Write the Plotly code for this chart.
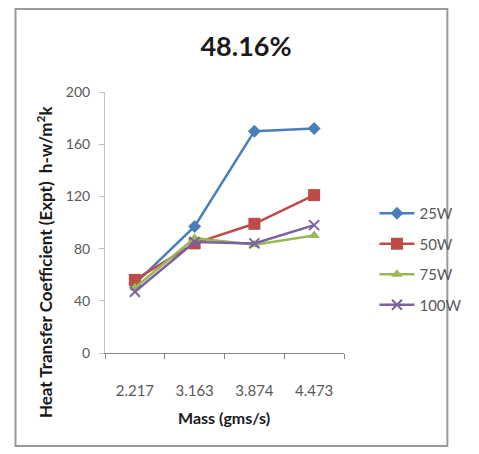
import plotly.graph_objects as go

categories = ["2.217", "3.163", "3.874", "4.473"]
series_names = ["25W", "50W", "75W", "100W"]
w25 = [53, 97, 170, 172]
w50 = [56, 84, 99, 121]
w75 = [50, 88, 83, 90]
w100 = [47, 85, 84, 98]
y_ticks = [0, 40, 80, 120, 160, 200]

colors = ["#4A7EBB", "#BE4B48", "#98B954", "#7D60A0"]
symbols = ["diamond", "square", "triangle-up", "x-thin-open"]
sizes = [10, 12, 10, 10]
values = [w25, w50, w75, w100]

FONT = "Lato"
fig = go.Figure()
for i, (name, vals) in enumerate(zip(series_names, values)):
    fig.add_trace(go.Scatter(
        x=categories, y=vals, name=name, mode="lines+markers",
        legendgroup=name,
        line=dict(color=colors[i], width=2.5),
        marker=dict(symbol=symbols[i], size=sizes[i], color=colors[i],
                    line=dict(color=colors[i], width=2 if i == 3 else 0)),
    ))

L, R, T, B = 105, 115, 92, 101
W, H = 479, 454
pw, ph = W - L - R, H - T - B

def px_x(p):
    return (p - L) / pw

def px_y(p):
    return (H - B - p) / ph

fig.update_layout(
    width=W, height=H,
    margin=dict(l=L, r=R, t=T, b=B),
    paper_bgcolor="white", plot_bgcolor="white",
    font=dict(family=FONT, color="#595959", size=14),
    title=dict(text="<b>48.16%</b>", x=246 / W, xref="container", xanchor="center",
               y=1 - 47 / H, yref="container", yanchor="middle",
               font=dict(size=27, color="#1a1a1a", family=FONT)),
    xaxis=dict(type="category", showline=True, linecolor="#868686", linewidth=1,
               ticks="outside", tickson="boundaries", ticklen=5, tickcolor="#868686",
               showgrid=False, zeroline=False, tickfont=dict(size=15, color="#595959"),
               ticklabelstandoff=24, range=[-0.5, 3.5]),
    yaxis=dict(range=[0, 200], tickvals=y_ticks, showline=True, linecolor="#BFBFBF",
               linewidth=1, ticks="outside", ticklen=5, tickcolor="#BFBFBF",
               showgrid=False, zeroline=False, tickfont=dict(size=14, color="#595959"),
               ticklabelstandoff=6),
    legend=dict(x=px_x(397), y=px_y(197), xanchor="left", yanchor="top",
                font=dict(size=15, color="#595959"), tracegroupgap=8,
                itemwidth=35, bgcolor="rgba(0,0,0,0)"),
    showlegend=True,
)

fig.add_annotation(text="<b>Mass (gms/s)</b>", xref="paper", yref="paper",
                   x=px_x(234), y=px_y(418), xanchor="center", yanchor="middle",
                   showarrow=False,
                   font=dict(size=16, color="#1a1a1a", family=FONT))
fig.add_annotation(text="<b>Heat Transfer Coefficient (Expt)  h-w/m<sup>2</sup>k</b>",
                   xref="paper", yref="paper", x=px_x(39), y=px_y(262),
                   xanchor="center", yanchor="middle",
                   textangle=-90, showarrow=False,
                   font=dict(size=17, color="#1a1a1a", family=FONT))

# chart frame
fig.add_shape(type="rect", xref="paper", yref="paper",
              x0=px_x(8), x1=px_x(476), y0=px_y(446), y1=px_y(9),
              line=dict(color="#9a9a9a", width=2), layer="below")

fig.write_html("out.html")
